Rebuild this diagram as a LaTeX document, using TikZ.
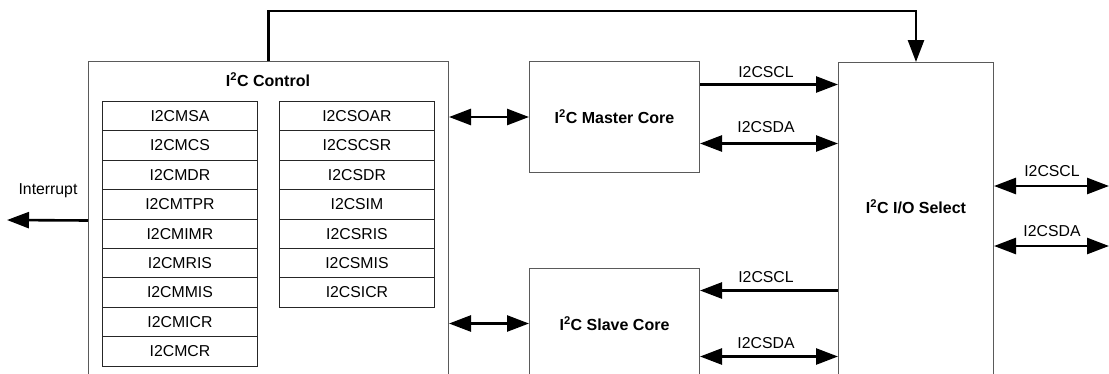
\documentclass[tikz,border=0pt]{standalone}
\usepackage{fontspec}
\setmainfont{Liberation Sans}
\usetikzlibrary{arrows.meta}
\definecolor{boxgray}{HTML}{5A5A5A}
\newcommand{\regfont}{\fontsize{15.8}{18}\selectfont}
\newcommand{\ttlfont}{\fontsize{16}{19}\selectfont\bfseries}
\begin{document}
\begin{tikzpicture}[x=1pt,y=-1pt,
  blk/.style={draw=boxgray, line width=1pt, rectangle, inner sep=0pt, anchor=north west, fill=white},
  reg/.style={draw=black!85, line width=0.9pt, rectangle, minimum width=155pt, minimum height=29.4pt, anchor=north west, inner sep=0pt, font=\regfont},
  wire/.style={line width=2.6pt, >={Triangle[length=22pt,width=16pt]}},
  lbl/.style={font=\regfont, inner sep=0pt},
  ttl/.style={font=\ttlfont, inner sep=0pt}]
\useasboundingbox (0,0) rectangle (1109,373);
\clip (0,0) rectangle (1109,373);

% blocks
\node[blk, minimum width=360pt, minimum height=324pt] (ctrl) at (88,61) {};
\node[ttl] (ctrlt) at (268,80) {I\textsuperscript{2}C Control};
\node[blk, minimum width=170pt, minimum height=111pt, font=\ttlfont] (mst) at (529,61) {I\textsuperscript{2}C Master Core};
\node[blk, minimum width=170pt, minimum height=110pt, font=\ttlfont] (slv) at (529,268) {I\textsuperscript{2}C Slave Core};
\node[blk, minimum width=155pt, minimum height=320pt] (io) at (838,62) {};
\node[ttl] (iot) at (916,207) {I\textsuperscript{2}C I/O Select};

% registers
\foreach \t [count=\i] in {I2CMSA,I2CMCS,I2CMDR,I2CMTPR,I2CMIMR,I2CMRIS,I2CMMIS,I2CMICR,I2CMCR}
  \node[reg] (m\i) at (102,{101+(\i-1)*29.4}) {\t};
\foreach \t [count=\i] in {I2CSOAR,I2CSCSR,I2CSDR,I2CSIM,I2CSRIS,I2CSMIS,I2CSICR}
  \node[reg] (s\i) at (279,{101+(\i-1)*29.4}) {\t};

% free ends
\coordinate (intend) at (7,220);
\coordinate (sclout) at (1109,186);
\coordinate (sdaout) at (1109,246);

% connectors
\draw[wire,->] (ctrl.north) -- ++(0,-50) -| (io.north);
\draw[wire,->] ([yshift=3pt]ctrl.west) -- (intend);
\node[lbl] (intl) at (48,191) {Interrupt};
\draw[wire,<->] (ctrl.east |- mst.west) -- (mst.west);
\draw[wire,<->] (ctrl.east |- slv.west) -- (slv.west);
\draw[wire,->] ([yshift=32.5pt]mst.east) -- ([yshift=32.5pt]mst.east -| io.west);
\draw[wire,<->] ([yshift=-26.5pt]mst.east) -- ([yshift=-26.5pt]mst.east -| io.west);
\draw[wire,<-] ([yshift=33pt]slv.east) -- ([yshift=33pt]slv.east -| io.west);
\draw[wire,<->] ([yshift=-33pt]slv.east) -- ([yshift=-33pt]slv.east -| io.west);
\draw[wire,<->] (io.east |- sclout) -- (sclout);
\draw[wire,<->] (io.east |- sdaout) -- (sdaout);

% wire labels
\node[lbl] (l1) at (766,72) {I2CSCL};
\node[lbl] (l2) at (766,127) {I2CSDA};
\node[lbl] (l3) at (766,277) {I2CSCL};
\node[lbl] (l4) at (766,343) {I2CSDA};
\node[lbl] (l5) at (1052,171) {I2CSCL};
\node[lbl] (l6) at (1052,231) {I2CSDA};
\end{tikzpicture}
\end{document}
